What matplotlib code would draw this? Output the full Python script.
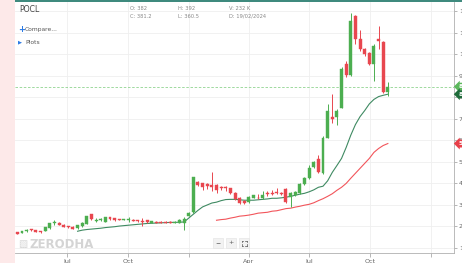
import matplotlib
matplotlib.use("Agg")
import matplotlib.pyplot as plt
import matplotlib.dates as mdates
from matplotlib.lines import Line2D
import numpy as np
import pandas as pd

# ---------------- data (weekly candles) ----------------
start_date = "2023-04-17"
opens = [17.4, 17.0, 17.8, 18.6, 18.3, 17.9, 18.0, 19.3, 21.4, 21.8,
         20.8, 20.0, 19.8, 19.2, 20.0, 21.2, 25.6, 22.6, 23.0, 22.1,
         24.3, 23.8, 23.5, 23.0, 23.1, 23.1, 22.9, 22.6, 22.9, 21.6,
         22.2, 22.1, 22.1, 22.0, 21.8, 21.6, 21.8, 25.0, 26.6, 40.5,
         40.0, 39.8, 39.1, 39.1, 38.4, 38.4, 37.7, 35.4, 33.1, 31.7,
         31.3, 33.4, 33.4, 33.1, 35.6, 35.6, 36.1, 35.5, 37.3, 33.6,
         34.5, 35.4, 39.6, 42.4, 47.4, 51.1, 44.7, 61.3, 71.0, 70.6,
         75.2, 95.5, 90.4, 117.7, 107.1, 102.4, 100.6, 95.5, 107.1, 105.7,
         82.6]
highs = [17.6, 18.1, 18.9, 19.0, 18.6, 18.1, 19.9, 21.8, 22.9, 22.0,
         21.0, 20.2, 20.0, 20.8, 21.9, 25.0, 25.9, 23.8, 24.0, 24.6,
         24.5, 24.0, 23.7, 23.7, 24.3, 23.3, 23.1, 23.9, 23.1, 22.7,
         22.6, 22.5, 22.5, 22.6, 22.5, 23.3, 24.2, 26.8, 43.2, 40.9,
         40.4, 40.2, 45.1, 39.5, 38.8, 38.8, 38.1, 35.8, 33.5, 32.1,
         34.0, 34.8, 35.0, 36.5, 36.5, 37.0, 37.7, 35.8, 37.7, 35.9,
         36.3, 40.0, 43.0, 48.5, 50.5, 53.0, 62.0, 77.0, 81.6, 74.5,
         94.0, 97.0, 119.1, 118.2, 111.0, 103.0, 101.0, 104.5, 113.1, 106.2,
         87.2]
lows = [16.3, 16.8, 17.6, 18.0, 17.3, 17.2, 17.8, 19.0, 20.8, 20.6,
        19.7, 19.4, 18.7, 19.0, 19.8, 21.0, 23.2, 22.3, 22.7, 21.9,
        23.2, 22.7, 22.9, 22.8, 22.0, 22.5, 22.2, 20.2, 21.8, 21.4,
        21.5, 21.5, 21.5, 21.5, 21.6, 21.4, 18.3, 24.8, 26.3, 38.7,
        37.0, 37.5, 36.5, 35.5, 37.0, 36.5, 35.0, 32.2, 30.3, 30.3,
        31.0, 33.1, 32.6, 32.8, 34.0, 34.5, 35.0, 34.8, 31.0, 29.0,
        34.0, 35.0, 39.2, 42.0, 47.0, 44.8, 44.3, 61.0, 68.0, 66.9,
        74.8, 89.5, 90.0, 104.8, 101.5, 99.0, 95.0, 87.7, 102.4, 82.0,
        80.7]
closes = [16.6, 17.8, 18.6, 18.2, 17.5, 17.4, 19.6, 21.5, 21.9, 20.8,
          19.9, 19.6, 18.9, 20.5, 21.6, 24.7, 23.5, 23.1, 23.5, 24.3,
          23.4, 22.9, 23.1, 23.4, 23.5, 22.7, 22.4, 22.2, 22.0, 22.5,
          21.8, 21.8, 21.8, 21.8, 22.2, 22.9, 23.6, 26.4, 42.8, 39.1,
          38.2, 39.0, 38.2, 36.8, 38.0, 38.0, 35.4, 32.6, 30.8, 30.9,
          33.6, 34.4, 33.0, 34.5, 35.2, 35.1, 35.5, 35.2, 31.3, 35.4,
          35.9, 39.6, 42.4, 47.0, 49.8, 45.1, 61.3, 73.8, 70.1, 73.8,
          93.2, 90.4, 115.4, 107.1, 102.4, 100.1, 95.5, 103.8, 106.1, 82.6,
          84.9]

# moving average lines (NaN where not drawn)
nan = np.nan
ma_fast = [nan] * 13 + [
    17.8, 18.3, 18.6, 18.8, 19.0, 19.2, 19.5, 19.7, 19.9, 20.2,
    20.4, 20.6, 20.8, 21.0, 21.2, 21.4, 21.5, 21.6, 21.7, 21.8,
    21.9, 21.9, 22.0, 22.1, 23.9, 25.7, 27.5, 29.1, 30.0, 30.9,
    31.3, 32.0, 32.5, 32.6, 32.6, 32.4, 32.2, 32.2, 32.2, 32.4,
    32.6, 32.8, 33.1, 33.1, 33.3, 33.6, 34.0, 34.5, 35.0, 35.4,
    36.1, 37.0, 38.2, 38.7, 41.2, 45.1, 48.3, 51.6, 56.7, 62.4,
    67.3, 71.0, 73.8, 76.9, 79.0, 80.3, 80.9, 81.4]
ma_slow = [nan] * 43 + [
    22.9, 23.2, 23.4, 23.9, 24.3, 24.8, 25.0, 25.3, 25.7, 26.2,
    26.4, 26.6, 27.1, 27.3, 27.8, 28.3, 28.5, 29.0, 29.4, 29.9,
    30.3, 31.0, 32.0, 32.9, 34.0, 35.2, 36.8, 38.2, 40.0, 42.4,
    44.7, 47.0, 49.3, 51.6, 54.4, 56.2, 57.6, 58.5]

y_ticks = [10, 20, 30, 40, 50, 60, 70, 80, 90, 100, 110, 120]
x_tick_dates = ["2023-07-01", "2023-10-01", "2024-01-01", "2024-04-01",
                "2024-07-01", "2024-10-01", "2025-01-01"]
x_tick_labels = ["Jul", "Oct", "", "Apr", "Jul", "Oct", ""]

title = "POCL"
ohlc_text = [("O: 382", "C: 381.2"), ("H: 392", "L: 360.5"), ("V: 232 K", "D: 19/02/2024")]
tag_values = ["84.9", "80.8", "58.5"]

# ---------------- styling ----------------
GREEN = "#4cae50"
RED = "#e8474f"
MA_FAST_C = "#3f8a62"
MA_SLOW_C = "#f2555b"
GRID = "#efefef"
AX_C = "#9a9a9a"
TXT = "#666666"

W, H = 462, 263
fig = plt.figure(figsize=(W / 100, H / 100), dpi=100)
fig.patch.set_facecolor("white")

# pink strip at far left and teal top border
fig.add_artist(plt.Rectangle((0, 0), 15 / W, 1, transform=fig.transFigure,
                             facecolor="#fde9e9", edgecolor="none", zorder=0))
fig.add_artist(plt.Rectangle((15 / W, 1 - 2 / H), 1, 2 / H, transform=fig.transFigure,
                             facecolor="#3f8a7e", edgecolor="none", zorder=5))

ax = fig.add_axes([15 / W, 1 - 253 / H, (454 - 15) / W, (253 - 2) / H])
ax.set_facecolor("white")

dates = pd.date_range(start_date, periods=len(opens), freq="7D")
xd = mdates.date2num(dates)

o = np.array(opens); h = np.array(highs); l = np.array(lows); c = np.array(closes)
up = c >= o
cols = np.where(up, GREEN, RED)
body_lo = np.minimum(o, c)
body_h = np.maximum(np.abs(c - o), 0.45)

ax.vlines(xd, l, h, colors=cols, linewidth=0.7, zorder=3)
ax.bar(xd, body_h, bottom=body_lo, width=4.5, color=cols, edgecolor=cols,
       linewidth=0.3, zorder=4)

ax.plot(xd, ma_fast, color=MA_FAST_C, linewidth=0.8, zorder=2)
ax.plot(xd, ma_slow, color=MA_SLOW_C, linewidth=0.8, zorder=2)

# last close dashed line
ax.axhline(closes[-1], color="#8fd38f", linewidth=0.6, linestyle=(0, (3, 2)), zorder=1)

xlim_lo = mdates.date2num(pd.Timestamp("2023-04-13 10:00"))
xlim_hi = mdates.date2num(pd.Timestamp("2025-02-05"))
ax.set_xlim(xlim_lo, xlim_hi)
ax.set_ylim(7.7, 124.2)

ax.set_yticks(y_ticks)
ax.yaxis.tick_right()
ax.tick_params(axis="y", labelsize=4.6, colors=TXT, length=2, width=0.5, pad=1.5,
               color=AX_C)
xt = mdates.date2num(pd.to_datetime(x_tick_dates))
ax.set_xticks(xt)
ax.set_xticklabels(x_tick_labels)
ax.tick_params(axis="x", labelsize=4.6, colors=TXT, length=3, width=0.5, pad=1.5,
               color=AX_C)
ax.grid(True, color=GRID, linewidth=0.6, zorder=0)
ax.set_axisbelow(True)
for s in ["left", "top"]:
    ax.spines[s].set_visible(False)
for s in ["right", "bottom"]:
    ax.spines[s].set_color("#b0b0b0")
    ax.spines[s].set_linewidth(0.6)

# price tags on right axis
def tag(val, label, color):
    ax.annotate(label, xy=(1.0, val), xycoords=("axes fraction", "data"),
                xytext=(3, 0), textcoords="offset points", ha="left", va="center",
                fontsize=4.2, color="white", fontweight="bold",
                bbox=dict(boxstyle="larrow,pad=0.25", fc=color, ec="none"),
                annotation_clip=False, zorder=10)

tag(closes[-1], tag_values[0], "#5cb85c")
tag(ma_fast[-1], tag_values[1], "#1e6b3a")
tag(ma_slow[-1], tag_values[2], "#e8404a")

# header texts
def ftext(px, py, s, **kw):
    return fig.text(px / W, 1 - py / H, s, **kw)

ftext(19, 10, title, fontsize=5.6, color="#444444", va="center", ha="left")
for k, (a, b) in enumerate(ohlc_text):
    x0 = [130, 178, 229][k]
    ftext(x0, 8, a, fontsize=3.7, color="#888888", va="center", ha="left")
    ftext(x0, 16, b, fontsize=3.7, color="#888888", va="center", ha="left")
ftext(18, 30, "+", fontsize=6, color="#2c7be5", va="center", ha="left", fontweight="bold")
ftext(25, 30, "Compare...", fontsize=4.3, color="#555555", va="center", ha="left")
ftext(18, 42, "\u25b6", fontsize=3.8, color="#2c7be5", va="center", ha="left")
ftext(25, 42, "Plots", fontsize=4.3, color="#555555", va="center", ha="left")

# watermark
ftext(18, 244, "\u25a7", fontsize=7, color="#d6d6d6", va="center", ha="left")
ftext(30, 244, "ZERODHA", fontsize=8.5, color="#d4d4d4", va="center", ha="left",
      fontweight="bold")

# zoom controls
for px, sym in [(218, "\u2212"), (231, "+")]:
    ftext(px, 243, sym, fontsize=4.5, color="#555555", va="center", ha="center",
          bbox=dict(boxstyle="square,pad=0.35", fc="#f2f2f2", ec="#e2e2e2", lw=0.4))
# full-screen control (box with corner marks)
bx, by = 244, 243
fig.add_artist(plt.Rectangle(((bx - 5) / W, 1 - (by + 5) / H), 10 / W, 10 / H,
                             transform=fig.transFigure, facecolor="#f2f2f2",
                             edgecolor="#e2e2e2", lw=0.4, zorder=6))
for sx in (-1, 1):
    for sy in (-1, 1):
        cx, cy = bx + sx * 2.5, by + sy * 2.5
        fig.add_artist(Line2D([cx / W, (cx - sx * 1.5) / W], [1 - cy / H, 1 - cy / H],
                              transform=fig.transFigure, color="#555555", lw=0.5, zorder=7))
        fig.add_artist(Line2D([cx / W, cx / W], [1 - cy / H, 1 - (cy - sy * 1.5) / H],
                              transform=fig.transFigure, color="#555555", lw=0.5, zorder=7))

fig.savefig("out.png", dpi=100)
